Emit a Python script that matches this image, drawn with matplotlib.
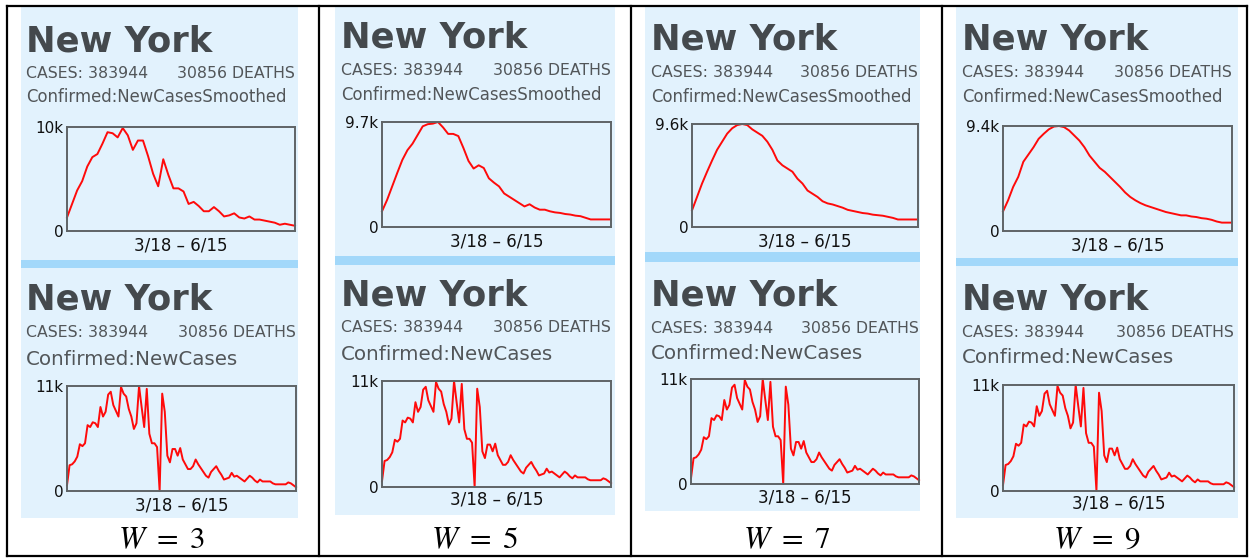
"""
New York new-case curves: smoothed (window W = 3, 5, 7, 9) vs. raw daily counts.
Four dashboard snapshots laid side by side in a table.
"""
import numpy as np
import matplotlib
matplotlib.use("Agg")
import matplotlib.pyplot as plt
from matplotlib.patches import Rectangle

W_PX, H_PX = 1249, 559

# ---- data (thousands of cases), 3/18 - 6/15 --------------------------------
raw_cases = [0.6, 2.7, 2.8, 3.1, 3.6, 4.9, 4.7, 5.0, 6.9, 6.7,
             7.2, 7.1, 6.7, 8.8, 7.8, 8.3, 10.1, 10.4, 9.0, 8.4,
             7.8, 10.9, 10.2, 9.9, 8.6, 7.8, 6.5, 7.1, 11.0, 8.8,
             6.7, 10.7, 6.0, 5.0, 5.0, 4.6, 0.0, 10.2, 8.3, 3.7,
             3.0, 4.4, 4.4, 3.7, 4.5, 3.3, 2.8, 2.3, 2.3, 2.6,
             3.3, 2.8, 2.4, 2.0, 1.6, 1.4, 2.0, 2.3, 2.6, 2.1,
             1.7, 1.2, 1.3, 1.4, 1.9, 1.5, 1.6, 1.4, 1.2, 1.0,
             1.3, 1.6, 1.4, 1.1, 0.9, 1.2, 1.0, 1.0, 1.0, 1.0,
             0.8, 0.7, 0.7, 0.7, 0.7, 0.7, 0.9, 0.8, 0.6, 0.4]

# smoothed curves, sampled evenly over the same date span
smooth_w3 = [1.3, 2.6, 3.9, 4.8, 6.2, 7.1, 7.4, 8.4, 9.5, 9.4,
             9.0, 9.9, 9.2, 7.8, 8.7, 8.7, 7.2, 5.5, 4.3, 6.9,
             5.4, 4.1, 4.1, 3.8, 2.6, 2.8, 2.4, 1.9, 1.9, 2.3,
             1.9, 1.4, 1.5, 1.7, 1.3, 1.2, 1.4, 1.1, 1.1, 1.0,
             0.9, 0.8, 0.6, 0.7, 0.6, 0.5]
smooth_w5 = [1.45, 2.5, 3.75, 5.0, 6.2, 7.1, 7.7, 8.5, 9.3, 9.5,
             9.55, 9.7, 9.2, 8.6, 8.6, 8.4, 7.3, 6.1, 5.4, 5.7,
             5.45, 4.5, 4.1, 3.75, 3.1, 2.8, 2.5, 2.2, 1.9, 2.1,
             1.8, 1.6, 1.6, 1.45, 1.35, 1.3, 1.2, 1.15, 1.05, 1.0,
             0.85, 0.7, 0.7, 0.7, 0.7, 0.7]
smooth_w7 = [1.55, 2.8, 4.05, 5.15, 6.2, 7.2, 7.95, 8.7, 9.2, 9.5,
             9.6, 9.5, 9.1, 8.8, 8.5, 7.95, 7.2, 6.2, 5.75, 5.45,
             5.15, 4.5, 4.05, 3.4, 3.1, 2.8, 2.4, 2.2, 2.1, 1.95,
             1.8, 1.6, 1.5, 1.4, 1.3, 1.25, 1.15, 1.1, 1.05, 0.95,
             0.85, 0.7, 0.7, 0.7, 0.7, 0.7]
smooth_w9 = [1.75, 2.75, 3.95, 4.85, 6.2, 6.85, 7.5, 8.25, 8.7, 9.1,
             9.35, 9.4, 9.3, 9.0, 8.55, 8.1, 7.5, 6.75, 6.2, 5.65,
             5.3, 4.85, 4.4, 3.95, 3.45, 3.05, 2.75, 2.5, 2.3, 2.15,
             2.0, 1.85, 1.7, 1.6, 1.5, 1.4, 1.4, 1.3, 1.25, 1.15,
             1.1, 1.0, 0.85, 0.75, 0.75, 0.75]

windows = [3, 5, 7, 9]
smooth_series = [smooth_w3, smooth_w5, smooth_w7, smooth_w9]
smooth_peaks = [10.0, 9.7, 9.6, 9.4]
smooth_peak_labels = ["10k", "9.7k", "9.6k", "9.4k"]
raw_peak, raw_peak_label = 11.0, "11k"

state = "New York"
cases_text = "CASES: 383944"
deaths_text = "30856 DEATHS"
metric_smooth = "Confirmed:NewCasesSmoothed"
metric_raw = "Confirmed:NewCases"
date_range = "3/18 \u2013 6/15"

# ---- layout (pixels, y measured from the top) ------------------------------
# panel: x0, x1, y0, y1, separator bar (y0, y1); text left x
panels = [
    dict(x0=21, x1=298, y0=7, y1=518, bar=(260, 268), tx=26,
         top_box=(67, 295, 127, 231), bot_box=(67, 296, 386, 491),
         top_base=(51, 78, 102, 251), bot_base=(310, 337, 365, 510), wx=161),
    dict(x0=335, x1=615, y0=6, y1=515, bar=(256, 265), tx=341,
         top_box=(382, 611, 122, 227), bot_box=(382, 611, 381, 487),
         top_base=(47, 75, 100, 247), bot_base=(305, 332, 360, 505), wx=475),
    dict(x0=645, x1=920, y0=6, y1=511, bar=(252, 262), tx=651,
         top_box=(692, 918, 124, 227), bot_box=(691, 919, 379, 484),
         top_base=(49, 77, 102, 247), bot_base=(305, 333, 359, 502), wx=787),
    dict(x0=956, x1=1238, y0=6, y1=518, bar=(258, 266), tx=962,
         top_box=(1003, 1232, 126, 231), bot_box=(1003, 1234, 385, 491),
         top_base=(49, 77, 102, 250), bot_base=(310, 337, 363, 509), wx=1097),
]
table_x = [7, 319, 631, 942, 1247]
table_y = (6, 556)

PANEL_BG = "#e2f2fd"
BAR_BG = "#a2d8fa"
TITLE_C = "#44494d"
TEXT_C = "#525659"

plt.rcParams["mathtext.fontset"] = "stix"
fig = plt.figure(figsize=(W_PX / 100, H_PX / 100), dpi=100)
fig.patch.set_facecolor("white")

bg = fig.add_axes([0, 0, 1, 1])
bg.set_xlim(0, W_PX)
bg.set_ylim(H_PX, 0)
bg.axis("off")

# table grid
for x in table_x:
    bg.plot([x, x], table_y, color="black", lw=1.6, solid_capstyle="projecting")
for y in table_y:
    bg.plot([table_x[0], table_x[-1]], [y, y], color="black", lw=1.6,
            solid_capstyle="projecting")


def add_chart(box, x, y, ymax, ylabel):
    x0, x1, y0, y1 = box
    ax = fig.add_axes([x0 / W_PX, 1 - y1 / H_PX, (x1 - x0) / W_PX, (y1 - y0) / H_PX])
    ax.set_facecolor("none")
    ax.plot(x, y, color="#ff0a0a", lw=1.4, clip_on=False)
    ax.set_xlim(0, len(raw_cases) - 1)
    ax.set_ylim(0, ymax)
    ax.set_xticks([])
    ax.set_yticks([0, ymax], ["0", ylabel])
    ax.tick_params(axis="y", length=0, pad=2.5, labelsize=11, labelcolor="#111111")
    for sp in ax.spines.values():
        sp.set_color("#5f6466")
        sp.set_linewidth(1.4)
    return ax


for p, w, series, peak, peak_lab in zip(panels, windows, smooth_series,
                                          smooth_peaks, smooth_peak_labels):
    bg.add_patch(Rectangle((p["x0"], p["y0"]), p["x1"] - p["x0"], p["y1"] - p["y0"],
                           facecolor=PANEL_BG, edgecolor="none"))
    bg.add_patch(Rectangle((p["x0"], p["bar"][0]), p["x1"] - p["x0"],
                           p["bar"][1] - p["bar"][0], facecolor=BAR_BG, edgecolor="none"))

    for base, metric, msize, box in ((p["top_base"], metric_smooth, 11.9, p["top_box"]),
                                     (p["bot_base"], metric_raw, 14.3, p["bot_box"])):
        bg.text(p["tx"], base[0], state, fontsize=25.5, fontweight="bold",
                color=TITLE_C, va="baseline", ha="left")
        bg.text(p["tx"], base[1], cases_text, fontsize=11.3, color=TEXT_C,
                va="baseline", ha="left")
        bg.text(box[1], base[1], deaths_text, fontsize=11.3, color=TEXT_C,
                va="baseline", ha="right")
        bg.text(p["tx"], base[2], metric, fontsize=msize, color=TEXT_C,
                va="baseline", ha="left")
        bg.text((box[0] + box[1]) / 2, base[3], date_range, fontsize=12,
                color="#111111", va="baseline", ha="center")

    xs = np.linspace(0, len(raw_cases) - 1, len(series))
    add_chart(p["top_box"], xs, series, peak, peak_lab)
    add_chart(p["bot_box"], np.arange(len(raw_cases)), raw_cases, raw_peak, raw_peak_label)

    bg.text(p["wx"], 548, f"$W\\ =\\ {w}$", fontsize=22.5, color="black",
            va="baseline", ha="center")

fig.savefig("out.png", dpi=100, facecolor="white")
